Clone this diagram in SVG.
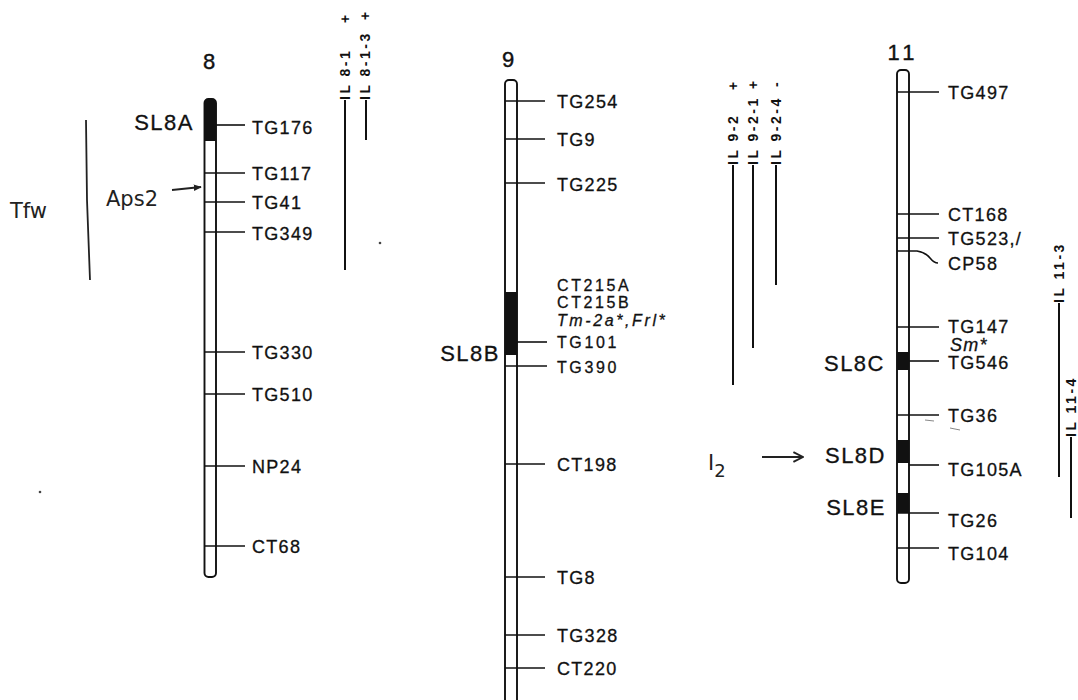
<svg xmlns="http://www.w3.org/2000/svg" width="1078" height="700" viewBox="0 0 1078 700">
<defs>
<style>
.chr{fill:#fff;stroke:#111;stroke-width:1.9}
.band{fill:#111}
.tick{stroke:#111;stroke-width:1.6;fill:none}
.mk{font-family:"Liberation Sans",Arial,sans-serif;font-size:18px;letter-spacing:1.3px;fill:#111;stroke:#111;stroke-width:0.3}
.mkw{font-family:"Liberation Sans",Arial,sans-serif;font-size:16px;letter-spacing:2.6px;fill:#111;stroke:#111;stroke-width:0.3}
.it{font-style:italic}
.sl{font-family:"Liberation Sans",Arial,sans-serif;font-size:22px;letter-spacing:1.5px;fill:#111;stroke:#111;stroke-width:0.3}
.num{font-family:"Liberation Sans",Arial,sans-serif;font-size:22px;fill:#111;stroke:#111;stroke-width:0.4}
.il{font-family:"Liberation Sans",Arial,sans-serif;font-size:14px;font-weight:bold;letter-spacing:2.5px;fill:#111}
.ln{stroke:#111;stroke-width:2;fill:none}
.hw{font-family:"DejaVu Sans",sans-serif;font-size:21px;fill:#222}
.hwl{stroke:#222;stroke-width:1.8;fill:none}
</style>
<marker id="ah" viewBox="0 0 10 10" refX="9" refY="5" markerWidth="8" markerHeight="8" orient="auto" markerUnits="userSpaceOnUse">
<path d="M0,1 L10,5 L0,9 z" fill="#222"/>
</marker>
<marker id="oa" viewBox="0 0 10 10" refX="9" refY="5" markerWidth="12" markerHeight="12" orient="auto" markerUnits="userSpaceOnUse">
<path d="M1,1 L9,5 L1,9" fill="none" stroke="#222" stroke-width="1.6"/>
</marker>
</defs>
<rect width="1078" height="700" fill="#fff"/>

<g id="chr8">
<text class="num" x="209" y="69" text-anchor="middle">8</text>
<rect class="chr" x="204.5" y="99" width="11.5" height="478" rx="4"/>
<path class="band" d="M204.5,141 V103 Q204.5,99 208.5,99 H212 Q216,99 216,103 V141 z"/>
<text class="sl" x="194" y="130" text-anchor="end">SL8A</text>
<g class="tick"><line x1="216" y1="125" x2="245" y2="125"/><line x1="204" y1="173" x2="245" y2="173"/><line x1="204" y1="202" x2="245" y2="202"/><line x1="204" y1="232" x2="245" y2="232"/><line x1="204" y1="352" x2="245" y2="352"/><line x1="204" y1="394" x2="245" y2="394"/><line x1="204" y1="466" x2="245" y2="466"/><line x1="204" y1="546" x2="245" y2="546"/></g>
<text class="mk" x="252" y="134">TG176</text>
<text class="mk" x="252" y="180">TG117</text>
<text class="mk" x="252" y="209">TG41</text>
<text class="mk" x="252" y="240">TG349</text>
<text class="mk" x="252" y="359">TG330</text>
<text class="mk" x="252" y="401">TG510</text>
<text class="mk" x="252" y="473">NP24</text>
<text class="mk" x="252" y="553">CT68</text>
</g>

<g id="chr9">
<text class="num" x="508" y="67" text-anchor="middle">9</text>
<rect class="chr" x="505" y="80" width="12" height="650" rx="4"/>
<rect class="band" x="505" y="292" width="12" height="63"/>
<text class="sl" x="500" y="361" text-anchor="end">SL8B</text>
<g class="tick"><line x1="505" y1="101" x2="545" y2="101"/><line x1="505" y1="139" x2="545" y2="139"/><line x1="505" y1="183" x2="545" y2="183"/><line x1="517" y1="342" x2="547" y2="342"/><line x1="505" y1="366" x2="547" y2="366"/><line x1="505" y1="464" x2="545" y2="464"/><line x1="505" y1="577" x2="545" y2="577"/><line x1="505" y1="635" x2="545" y2="635"/><line x1="505" y1="668" x2="545" y2="668"/></g>
<text class="mk" x="557" y="108">TG254</text>
<text class="mk" x="557" y="146">TG9</text>
<text class="mk" x="557" y="191">TG225</text>
<text class="mkw" x="557" y="291">CT215A</text>
<text class="mkw" x="557" y="308">CT215B</text>
<text class="mkw it" x="557" y="326" letter-spacing="1.8">Tm-2a*,Frl*</text>
<text class="mkw" x="557" y="348" letter-spacing="2.2">TG101</text>
<text class="mkw" x="557" y="373" letter-spacing="2.2">TG390</text>
<text class="mk" x="557" y="471">CT198</text>
<text class="mk" x="557" y="584">TG8</text>
<text class="mk" x="557" y="642">TG328</text>
<text class="mk" x="557" y="675">CT220</text>
</g>

<g id="chr11">
<text class="num" x="903" y="60" text-anchor="middle" letter-spacing="4">11</text>
<rect class="chr" x="897" y="70" width="12" height="513" rx="4"/>
<rect class="band" x="897" y="352" width="12" height="18"/>
<path class="band" d="M897,440 H909 V463 H897 z"/>
<rect class="band" x="897" y="493" width="12" height="20"/>
<text class="sl" x="885" y="371" text-anchor="end">SL8C</text>
<text class="sl" x="886" y="463" text-anchor="end">SL8D</text>
<text class="sl" x="886" y="515" text-anchor="end">SL8E</text>
<g class="tick"><line x1="897" y1="92" x2="939" y2="92"/><line x1="897" y1="214" x2="939" y2="214"/><line x1="897" y1="238" x2="939" y2="238"/><path d="M897,251 H917 Q925,252 930,258 Q934,263 938,263"/><line x1="897" y1="327" x2="939" y2="327"/><line x1="909" y1="361" x2="939" y2="361"/><line x1="897" y1="415" x2="939" y2="415"/><line x1="909" y1="465" x2="939" y2="465"/><line x1="897" y1="513" x2="939" y2="513"/><line x1="897" y1="548" x2="939" y2="548"/></g>
<text class="mk" x="948" y="99">TG497</text>
<text class="mk" x="948" y="221">CT168</text>
<text class="mk" x="948" y="245">TG523,/</text>
<text class="mk" x="948" y="270">CP58</text>
<text class="mk" x="948" y="333">TG147</text>
<text class="mk it" x="950" y="351" font-size="13">Sm*</text>
<text class="mk" x="948" y="369">TG546</text>
<text class="mk" x="948" y="422">TG36</text>
<text class="mk" x="948" y="476">TG105A</text>
<text class="mk" x="948" y="527">TG26</text>
<text class="mk" x="948" y="560">TG104</text>
</g>

<g id="il-labels">
<text class="il" transform="translate(350,100) rotate(-90)">IL 8-1</text>
<text class="il" transform="translate(350,23) rotate(-90)">+</text>
<text class="il" transform="translate(370,100) rotate(-90)">IL 8-1-3</text>
<text class="il" transform="translate(370,20) rotate(-90)">+</text>
<text class="il" transform="translate(738,165) rotate(-90)">IL 9-2</text>
<text class="il" transform="translate(738,90) rotate(-90)">+</text>
<text class="il" transform="translate(758,165) rotate(-90)">IL 9-2-1</text>
<text class="il" transform="translate(758,89) rotate(-90)">+</text>
<text class="il" transform="translate(781,165) rotate(-90)">IL 9-2-4</text>
<text class="il" transform="translate(781,87) rotate(-90)">-</text>
<text class="il" transform="translate(1064,303) rotate(-90)">IL 11-3</text>
<text class="il" transform="translate(1076,437) rotate(-90)">IL 11-4</text>
</g>

<g id="connectors">
<line class="ln" x1="345" y1="100" x2="345" y2="270"/>
<line class="ln" x1="366" y1="100" x2="366" y2="140"/>
<line class="ln" x1="733" y1="165" x2="733" y2="385"/>
<line class="ln" x1="753" y1="165" x2="753" y2="348"/>
<line class="ln" x1="776" y1="165" x2="776" y2="285"/>
<line class="ln" x1="1059" y1="303" x2="1059" y2="477"/>
<line class="ln" x1="1071" y1="437" x2="1071" y2="518"/>
<path class="hwl" d="M86,120 L87,200 L90,280"/>
<path class="hwl" d="M172,190 L201,187" marker-end="url(#ah)"/>
<path class="hwl" d="M762,457 L803,457" marker-end="url(#oa)"/>
</g>

<g id="handwriting">
<text class="hw" x="10" y="218">Tfw</text>
<text class="hw" x="106" y="206">Aps2</text>
<text class="hw" x="708" y="470" font-size="26" font-family="Liberation Serif, serif">I<tspan font-size="18" dy="7">2</tspan></text>
</g>

<g id="specks" fill="#444">
<circle cx="380" cy="243" r="1.3"/>
<circle cx="40" cy="492" r="1.3"/>
<path d="M925,420 L934,421 M950,428 L960,430" stroke="#888" stroke-width="1"/>
</g>
</svg>
